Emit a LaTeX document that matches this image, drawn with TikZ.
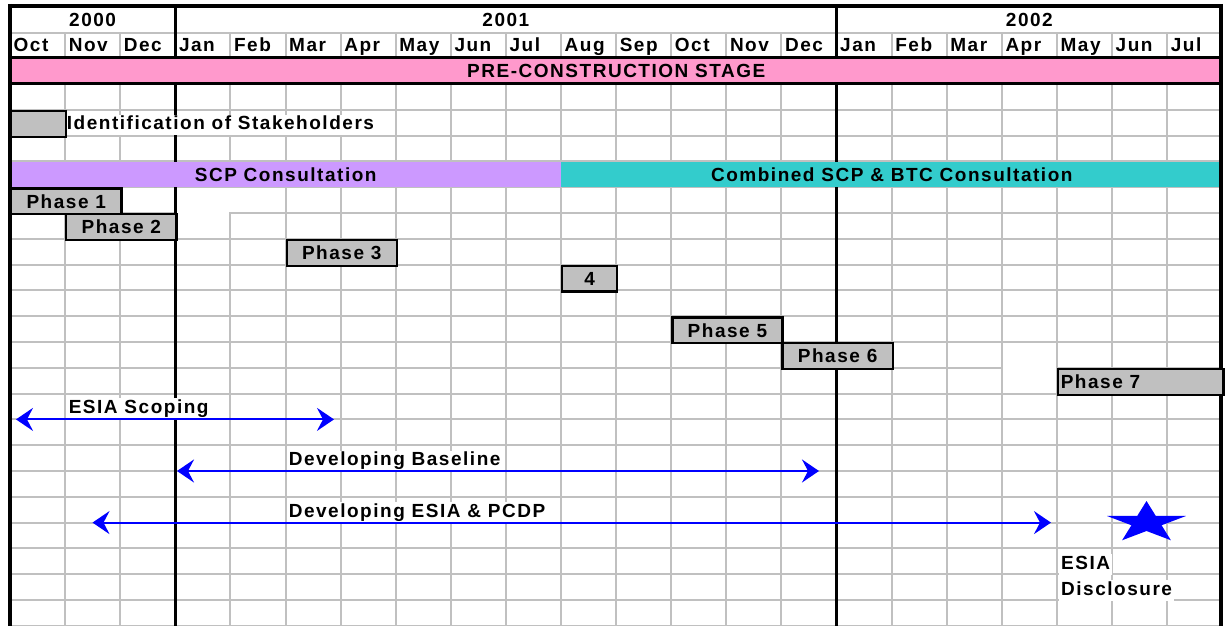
\documentclass[tikz,border=0pt]{standalone}
\usepackage{fontspec}
\setmainfont{Liberation Sans}[LetterSpace=8]
\usetikzlibrary{arrows.meta}
\definecolor{gridgrey}{HTML}{C0C0C0}
\definecolor{boxgrey}{HTML}{C0C0C0}
\definecolor{stagepink}{HTML}{FF99CC}
\definecolor{scppurple}{HTML}{CC99FF}
\definecolor{btcteal}{HTML}{33CCCC}
\definecolor{spanblue}{HTML}{0000FF}
\begin{document}
\begin{tikzpicture}[x=1pt,y=-1pt,
  font=\fontsize{19}{21}\selectfont\bfseries,
  gridline/.style={draw=gridgrey, line width=2pt},
  rule/.style={draw=black, line width=2.6pt},
  frame/.style={draw=black, line width=4pt},
  hdr/.style={inner sep=0pt, text height=13.5pt, text depth=0pt},
  band/.style={hdr, anchor=north west, minimum height=25.8pt},
  phasebox/.style={hdr, anchor=north west, draw=black, line width=2.3pt,
                   fill=boxgrey, minimum height=25.8pt},
  tag/.style={anchor=base west, fill=white, inner xsep=2pt, inner ysep=1.5pt,
              text height=13.5pt, text depth=4pt},
  span/.style={draw=spanblue, line width=2pt,
               {Stealth[length=17pt,width=23pt,inset=6pt]}-{Stealth[length=17pt,width=23pt,inset=6pt]}}
]
\useasboundingbox[fill=white] (0,0) rectangle (1227,626);

% month grid: x = 10 + 55.1 j, y = 84 + 25.8 k
\foreach \j in {1,2,4,5,6,7,8,9,10,11,12,13,14,16,17,18,19,20,21}
  \draw[gridline] ({10+55.1*\j},33) -- ({10+55.1*\j},627);
\draw[gridline] (10,33) -- (1222,33);
\foreach \k in {1,...,21}
  \draw[gridline] (10,{84+25.8*\k}) -- (1222,{84+25.8*\k});

% blank cells without grid lines
\fill[white] (176.5,188.4) rectangle (229.2,237.6);
\fill[white] (176.5,188.4) rectangle (284.4,211.9);
\fill[white] (1002.9,366.4) rectangle (1055.8,369.2);

% year boundaries
\draw[rule] (175.3,6) -- (175.3,627);
\draw[rule] (836.5,6) -- (836.5,627);

% stage bands
\node[band, fill=stagepink, minimum width=1212.2pt] (stage) at (10,57.5) {PRE-CONSTRUCTION STAGE};
\node[band, fill=scppurple, minimum width=551pt] (scp) at (10,161.4) {SCP Consultation};
\node[band, fill=btcteal, minimum width=661.2pt] (btc) at (561,161.4) {Combined SCP \& BTC Consultation};

% header rules and outer frame
\draw[draw=black, line width=3.5pt] (10,57.5) -- (1222,57.5);
\draw[draw=black, line width=3pt] (10,83.5) -- (1222,83.5);
\draw[frame] (9.5,6) -- (1221,6);
\draw[frame] (9.5,4) -- (9.5,627);
\draw[frame] (1221,4) -- (1221,627);

% years
\node[hdr] (y2000) at (92.6,20) {2000};
\node[hdr] (y2001) at (505.9,20) {2001};
\node[hdr] (y2002) at (1029.4,20) {2002};

% months
\foreach \m [count=\i from 0] in {Oct,Nov,Dec,Jan,Feb,Mar,Apr,May,Jun,Jul,Aug,Sep,Oct,Nov,Dec,Jan,Feb,Mar,Apr,May,Jun,Jul}
  \node[hdr, anchor=west] (m\i) at ({10+55.1*\i+3.5},45) {\m};

% activity labels
\node[tag] (ident) at (64.7,129.5) {Identification of Stakeholders};
\node[tag] (scoping) at (66.6,413.3) {ESIA Scoping};
\node[tag] (baseline) at (286.6,465.7) {Developing Baseline};
\node[tag] (esia) at (286.6,517.3) {Developing ESIA \& PCDP};
\node[tag] (discl1) at (1059,569) {ESIA};
\node[tag] (discl2) at (1059,595) {Disclosure};

% phase bars
\node[phasebox, minimum width=55.1pt] (stake) at (10,109.8) {};
\node[phasebox, minimum width=110.2pt] (p1) at (10,187.2) {Phase 1};
\node[phasebox, minimum width=110.2pt] (p2) at (65.1,213) {Phase 2};
\node[phasebox, minimum width=110.2pt] (p3) at (285.5,238.8) {Phase 3};
\node[phasebox, minimum width=55.1pt] (p4) at (561,264.6) {4};
\node[phasebox, minimum width=110.2pt] (p5) at (671.2,316.2) {Phase 5};
\node[phasebox, minimum width=110.2pt] (p6) at (781.4,342) {Phase 6};
\node[phasebox, minimum width=165.3pt] (p7) at (1056.9,367.8) {};
\node[hdr, anchor=west] (p7text) at ([xshift=3.7pt]p7.west) {Phase 7};

% durations
\coordinate (scopeL) at (16,419.4);
\coordinate (scopeR) at (334,419.4);
\coordinate (baseL) at (177,471);
\coordinate (baseR) at (819,471);
\coordinate (esiaL) at (92.5,522.6);
\coordinate (esiaR) at (1051,522.6);
\draw[span] (scopeL) -- (scopeR);
\draw[span] (baseL) -- (baseR);
\draw[span] (esiaL) -- (esiaR);

% disclosure milestone
\fill[spanblue, shift={(1146.5,522.7)}, xscale=41.5, yscale=-21.7]
  (90:1) -- (126:0.382) -- (162:1) -- (198:0.382) -- (234:1) -- (270:0.382)
  -- (306:1) -- (342:0.382) -- (18:1) -- (54:0.382) -- cycle;
\end{tikzpicture}
\end{document}
